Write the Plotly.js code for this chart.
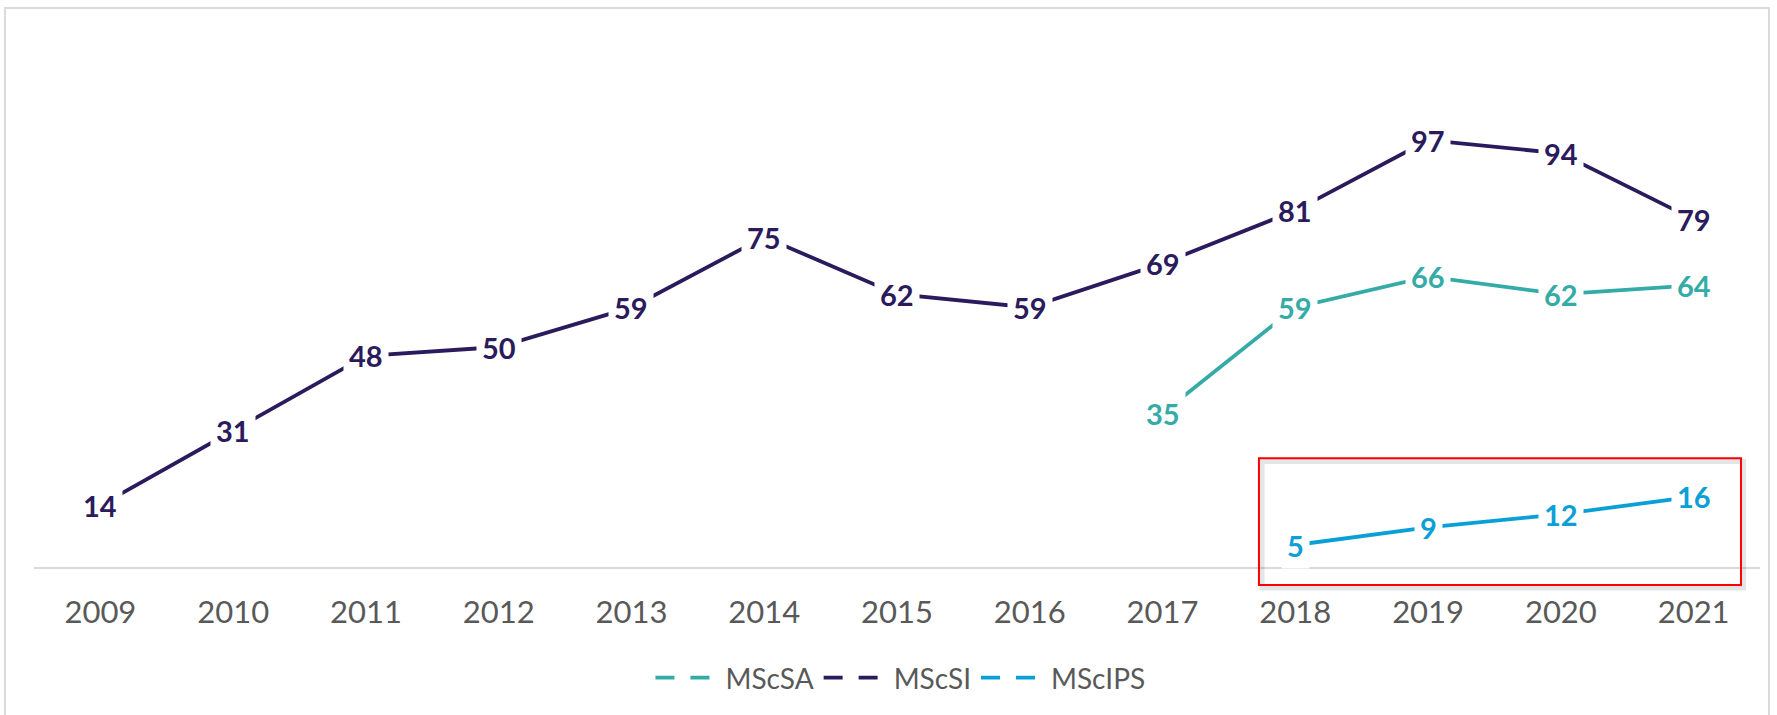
<!DOCTYPE html>
<html>
<head>
<meta charset="utf-8">
<script src="https://cdn.plot.ly/plotly-3.0.1.min.js"></script>
<style>
  html, body { margin: 0; padding: 0; background: #ffffff; overflow: hidden; }
  #frame { position: absolute; left: 4px; top: 7px; width: 1766px; height: 760px; border: 2px solid #dadada; box-sizing: border-box; }
  #chart { position: absolute; left: 0; top: 0; width: 1777px; height: 715px; }
</style>
</head>
<body>
<div id="frame"></div>
<div id="chart"></div>
<script>
const years = ['2009','2010','2011','2012','2013','2014','2015','2016','2017','2018','2019','2020','2021'];
const mscSA  = [null, null, null, null, null, null, null, null, 35, 59, 66, 62, 64];
const mscSI  = [14, 31, 48, 50, 59, 75, 62, 59, 69, 81, 97, 94, 79];
const mscIPS = [null, null, null, null, null, null, null, null, null, 5, 9, 12, 16];

const seriesNames  = ['MScSA', 'MScSI', 'MScIPS'];
const seriesValues = [mscSA, mscSI, mscIPS];
const seriesColors = ['#35aba7', '#2b1a5c', '#0aa0d6'];

const FONT = 'Lato, "Open Sans", sans-serif';
const traces = [];
const annotations = [];

seriesNames.forEach((name, i) => {
  traces.push({
    type: 'scatter', mode: 'lines', name: name,
    x: years, y: seriesValues[i],
    line: { color: seriesColors[i], width: 3.8 },
    connectgaps: false, showlegend: false, hoverinfo: 'x+y'
  });
  // legend-only entry with dashed glyph
  traces.push({
    type: 'scatter', mode: 'lines', name: name,
    x: [null], y: [null],
    line: { color: seriesColors[i], width: 3.8, dash: '19px,16px' },
    showlegend: true, hoverinfo: 'skip'
  });
  seriesValues[i].forEach((v, k) => {
    if (v === null) return;
    annotations.push({
      x: k, y: v, xref: 'x', yref: 'y',
      text: '<b>' + v + '</b>', showarrow: false,
      font: { family: FONT, size: 29, color: seriesColors[i] },
      bgcolor: '#ffffff', borderpad: 5,
      xanchor: 'center', yanchor: 'middle'
    });
  });
});

const layout = {
  width: 1777, height: 715,
  margin: { l: 34, r: 17, t: 39, b: 148 },
  paper_bgcolor: 'rgba(0,0,0,0)', plot_bgcolor: 'rgba(0,0,0,0)',
  font: { family: FONT, color: '#595959' },
  xaxis: {
    type: 'category', range: [-0.5, 12.5],
    showline: true, linecolor: '#d9d9d9', linewidth: 2,
    showgrid: false, zeroline: false,
    ticks: 'outside', ticklen: 17, tickcolor: 'rgba(0,0,0,0)',
    tickfont: { family: FONT, size: 31, color: '#595959' }
  },
  yaxis: {
    range: [0, 120], visible: false, showgrid: false, zeroline: false, fixedrange: true
  },
  showlegend: true,
  legend: {
    orientation: 'h', x: 0.502, xanchor: 'center', y: -0.21, yanchor: 'middle',
    font: { family: FONT, size: 28, color: '#595959' },
    itemwidth: 65, traceorder: 'normal'
  },
  annotations: annotations,
  shapes: [
    {
      type: 'rect', xref: 'paper', yref: 'paper',
      x0: 0.7115, x1: 0.9905, y0: -0.040, y1: 0.200,
      line: { color: 'rgba(0,0,0,0.10)', width: 5 }, fillcolor: 'rgba(0,0,0,0)'
    },
    {
      type: 'rect', xref: 'paper', yref: 'paper',
      x0: 0.7097, x1: 0.989, y0: -0.034, y1: 0.206,
      line: { color: '#ff0000', width: 2 }, fillcolor: 'rgba(0,0,0,0)'
    }
  ]
};

Plotly.newPlot('chart', traces, layout, { displayModeBar: false, staticPlot: true });
</script>
</body>
</html>
